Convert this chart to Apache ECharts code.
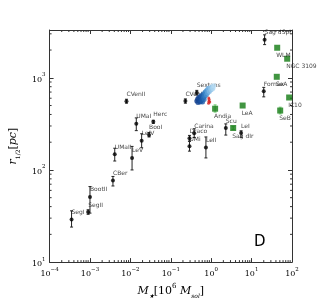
<!DOCTYPE html>
<html>
<head>
<meta charset="utf-8">
<script src="https://cdn.jsdelivr.net/npm/echarts@6/dist/echarts.min.js"></script>
<style>html,body{margin:0;padding:0;background:#fff}#c{width:324px;height:304px}</style>
</head>
<body>
<div id="c"></div>
<script>
// ---- data (M* in 1e6 Msol, r_1/2 in pc) ----
const dsphNames = ['SegI','SegII','BootII','CBer','UMaII','LeV','CVenII','UMaI','Herc','BooI','LeIV','CVenI','Sextans','Carina','Draco','UMi','LeII','Scu','LeI','Fornax','Sag dSph'];
const dsphMass  = [0.00035,0.0009,0.001,0.0037,0.0041,0.011,0.008,0.014,0.037,0.029,0.019,0.23,0.44,0.38,0.29,0.29,0.74,2.3,5.5,20,21];
const dsphR     = [29,35,51,77,148,135,557,318,333,240,207,560,690,250,221,181,175,285,252,716,2590];
const dsphRlo   = [24,33,34,67,125,100,530,267,320,228,174,530,650,225,205,160,135,239,226,621,2290];
const dsphRhi   = [36,37,66,85,172,180,585,367,346,255,247,590,730,280,237,205,228,316,266,787,2925];

const dirrNames = ['WLM','NGC 3109','SeA','IC10','SeB','LeA','Andia','Sag dIr'];
const dirrMass  = [43,76,42,85,51,6.0,1.25,3.5];
const dirrR     = [2118,1610,1025,611,441,500,462,285];
const dirrRlo   = [2118,1610,1025,611,405,500,424,275];
const dirrRhi   = [2118,1610,1025,611,480,500,509,295];

// simulated cluster near Sextans: [M, r, stage]
const clusterBlue = [[0.44,560,0],[0.46,590,0],[0.47,540,0.05],[0.49,610,0.05],[0.50,575,0.1],[0.52,600,0.1],[0.53,545,0.1],[0.55,555,0.15],[0.55,640,0.15],[0.57,622,0.2],[0.58,570,0.2],[0.60,585,0.25],[0.61,545,0.25],[0.62,640,0.3],[0.64,665,0.3],[0.65,610,0.35],[0.67,580,0.35],[0.68,662,0.4],[0.70,630,0.45],[0.71,700,0.45],[0.73,690,0.5],[0.76,655,0.55],[0.77,730,0.6],[0.79,722,0.6],[0.82,684,0.65],[0.84,770,0.7],[0.86,752,0.7],[0.90,712,0.75],[0.95,782,0.8],[1.0,742,0.85],[1.05,800,0.9],[1.1,765,0.95],[1.15,822,1.0]];
const clusterRed = [[0.86,530],[0.88,555],[0.89,580],[0.87,605],[0.92,545]];

const xMin = 1e-4, xMax = 100, yMin = 10, yMax = 3300;

// ---- build ----
const chart = echarts.init(document.getElementById('c'), null, {renderer:'canvas'});
const dsphPts = dsphNames.map((n,i)=>({name:n, value:[dsphMass[i], dsphR[i]]}));
const dirrPts = dirrNames.map((n,i)=>({name:n, value:[dirrMass[i], dirrR[i]]}));
const dsphErr = dsphNames.map((n,i)=>[dsphMass[i], dsphRlo[i], dsphRhi[i]]);
const dirrErr = dirrNames.map((n,i)=>[dirrMass[i], dirrRlo[i], dirrRhi[i]]).filter(d=>d[1]!==d[2]);

const minorX = [], minorY = [];
for (let d=-4; d<2; d++) for (let k=2;k<10;k++) minorX.push(k*Math.pow(10,d));
for (let d=1; d<4; d++) for (let k=2;k<10;k++){const v=k*Math.pow(10,d); if(v<yMax) minorY.push(v);}

function pow10Label(v){
  const e = Math.round(Math.log10(v));
  if (Math.abs(Math.log10(v)-e) > 1e-6) return '';
  return '{b|10}{s|' + String(e).replace('-','\u2212') + '}';
}
const tickRich = {b:{fontFamily:'DejaVu Serif',fontSize:8,color:'#000',lineHeight:12,verticalAlign:'bottom'},
                  s:{fontFamily:'DejaVu Serif',fontSize:5.5,color:'#000',lineHeight:12,verticalAlign:'top'}};

function errRender(color){
  return function(params, api){
    const x = api.value(0);
    const p1 = api.coord([x, api.value(1)]);
    const p2 = api.coord([x, api.value(2)]);
    const st = {stroke: color, lineWidth: 1};
    return {type:'group', children:[
      {type:'line', shape:{x1:p1[0],y1:p1[1],x2:p2[0],y2:p2[1]}, style:st},
      {type:'line', shape:{x1:p1[0]-1.5,y1:p1[1],x2:p1[0]+1.5,y2:p1[1]}, style:st},
      {type:'line', shape:{x1:p2[0]-1.5,y1:p2[1],x2:p2[0]+1.5,y2:p2[1]}, style:st}
    ]};
  };
}

const axisCommon = {
  type:'log', logBase:10,
  axisLine:{show:true, onZero:false, lineStyle:{color:'#333', width:1}},
  axisTick:{show:true, inside:true, length:4, lineStyle:{color:'#333'}},
  splitLine:{show:false}, minorTick:{show:false}
};

const labelFont = {fontFamily:'DejaVu Sans', fontSize:6, color:'#111'};

const option = {
  animation:false,
  backgroundColor:'#fff',
  grid:{left:40, right:32, top:30, bottom:31},
  title:{text:'D', left:249, top:230, textStyle:{fontFamily:'DejaVu Sans', fontSize:15, fontWeight:'normal', color:'#000'}},
  xAxis:[
    Object.assign({}, axisCommon, {position:'bottom', min:xMin, max:xMax, splitNumber:6,
      axisLabel:{show:true, margin:4, formatter:pow10Label, rich:tickRich},
      name:'{i|M}{sub|\u2605}{n|[10}{sup|6}{i| M}{sub|sol}{n|]}', nameLocation:'middle', nameGap:19,
      nameTextStyle:{rich:{
        i:{fontFamily:'DejaVu Serif',fontStyle:'italic',fontSize:11,color:'#000',lineHeight:14,verticalAlign:'bottom'},
        n:{fontFamily:'DejaVu Serif',fontSize:11,color:'#000',lineHeight:14,verticalAlign:'bottom'},
        sub:{fontFamily:'DejaVu Serif',fontStyle:'italic',fontSize:6,color:'#000',lineHeight:14,verticalAlign:'bottom',padding:[0,0,-2,0]},
        sup:{fontFamily:'DejaVu Serif',fontSize:7,color:'#000',lineHeight:14,verticalAlign:'top'}
      }}}),
    Object.assign({}, axisCommon, {position:'top', min:xMin, max:xMax, splitNumber:6, axisLabel:{show:false}})
  ],
  yAxis:[
    Object.assign({}, axisCommon, {position:'left', min:yMin, max:yMax, splitNumber:3,
      axisLabel:{show:true, margin:4, formatter:pow10Label, rich:tickRich},
      name:'{i|r}{sub|1/2}{n|[}{i|pc}{n|]}', nameLocation:'middle', nameGap:25, nameRotate:90,
      nameTextStyle:{rich:{
        i:{fontFamily:'DejaVu Serif',fontStyle:'italic',fontSize:11,color:'#000',lineHeight:14,verticalAlign:'bottom'},
        n:{fontFamily:'DejaVu Serif',fontSize:11,color:'#000',lineHeight:14,verticalAlign:'bottom'},
        sub:{fontFamily:'DejaVu Serif',fontSize:6,color:'#000',lineHeight:14,verticalAlign:'bottom',padding:[0,0,-2,0]}
      }}}),
    Object.assign({}, axisCommon, {position:'right', min:yMin, max:yMax, splitNumber:3, axisLabel:{show:false}})
  ],
  visualMap:[{show:false, type:'continuous', seriesIndex:4, dimension:2, min:0, max:1,
    inRange:{color:['#123f8c','#1c5aa8','#3a86c8','#7db8e4','#b6dbf2']}}],
  series:[
    {type:'custom', name:'minorX', data:minorX.map(v=>[v]), silent:true, clip:false, z:1,
      renderItem:function(p, api){
        const b = api.coord([api.value(0), yMin]); const t = api.coord([api.value(0), yMax]);
        const st={stroke:'#333', lineWidth:1};
        return {type:'group', children:[
          {type:'line', shape:{x1:b[0],y1:b[1],x2:b[0],y2:b[1]-2}, style:st},
          {type:'line', shape:{x1:t[0],y1:t[1],x2:t[0],y2:t[1]+2}, style:st}]};
      }},
    {type:'custom', name:'minorY', data:minorY.map(v=>[xMin, v]), silent:true, clip:false, z:1,
      renderItem:function(p, api){
        const l = api.coord([xMin, api.value(1)]); const r = api.coord([xMax, api.value(1)]);
        const st={stroke:'#333', lineWidth:1};
        return {type:'group', children:[
          {type:'line', shape:{x1:l[0],y1:l[1],x2:l[0]+2,y2:l[1]}, style:st},
          {type:'line', shape:{x1:r[0],y1:r[1],x2:r[0]-2,y2:r[1]}, style:st}]};
      }},
    {type:'custom', name:'dsphErr', data:dsphErr, renderItem:errRender('#222'), z:2, silent:true},
    {type:'custom', name:'dirrErr', data:dirrErr, renderItem:errRender('#7ccf7c'), z:2, silent:true},
    {type:'scatter', name:'clusterBlue', data:clusterBlue, symbol:'circle', symbolSize:5, z:4, silent:true},
    {type:'scatter', name:'clusterRed', data:clusterRed, symbol:'circle', symbolSize:3, z:5, itemStyle:{color:'#d42020'}, silent:true},
    {type:'scatter', name:'dSph', data:dsphPts, symbol:'circle', symbolSize:4, z:3,
      itemStyle:{color:'#000'},
      label:{show:true, position:[2,-8], formatter:'{b}', ...labelFont}},
    {type:'scatter', name:'dIrr', data:dirrPts, symbol:'rect', symbolSize:6, z:3,
      itemStyle:{color:'#117a11'},
      label:{show:true, position:[2,8], formatter:'{b}', ...labelFont}}
  ]
};
chart.setOption(option);
</script>
</body>
</html>
